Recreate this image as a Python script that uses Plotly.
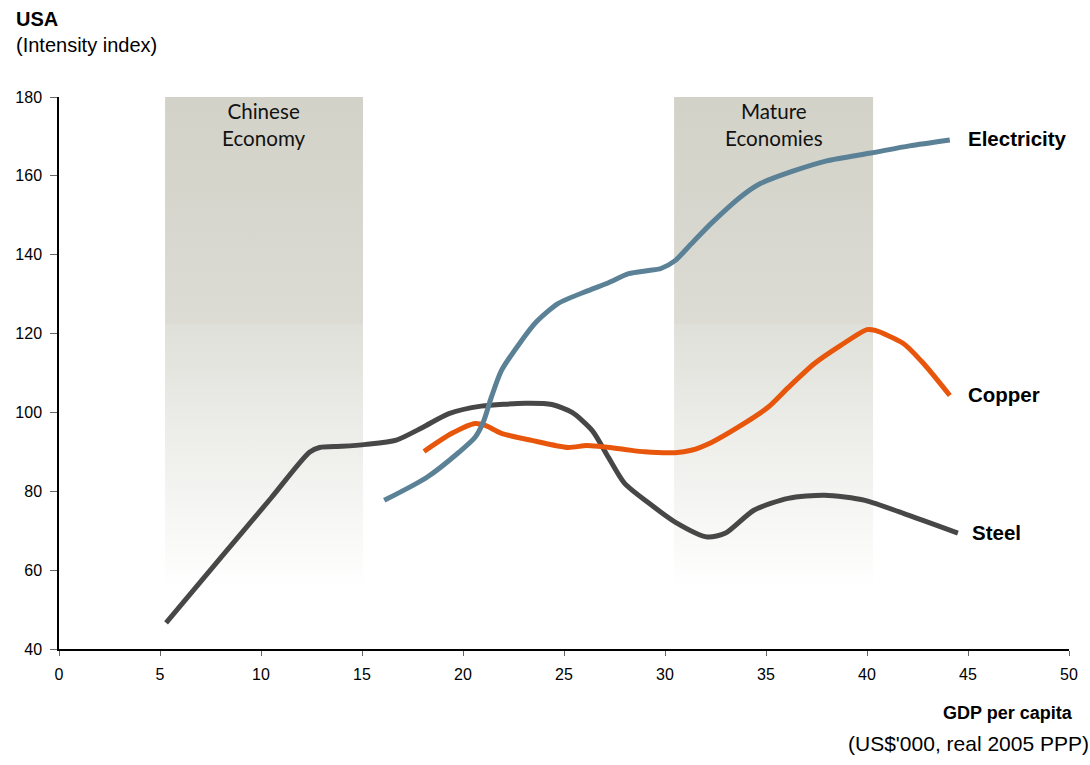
import plotly.graph_objects as go

# Intensity index (USA) against GDP per capita, US$'000 real 2005 PPP
steel_x = [5.3, 8.0, 10.5, 12.4, 12.9, 14.0, 15.2, 16.7, 18.0, 19.3, 20.9, 23.1, 24.4,
           25.4, 26.4, 27.2, 28.0, 29.2, 30.5, 32.1, 33.0, 34.4, 36.1, 37.9, 39.9, 41.8, 44.5]
steel_y = [46.6, 63.1, 78.3, 89.9, 91.1, 91.4, 91.9, 93.0, 96.2, 99.7, 101.6, 102.3, 102.0,
           100.0, 95.4, 88.6, 82.0, 77.0, 72.2, 68.4, 69.4, 75.2, 78.2, 79.0, 77.7, 74.4, 69.4]

copper_x = [18.07, 19.45, 20.6, 21.1, 21.9, 23.4, 25.2, 26.1, 26.7, 28.0, 29.0, 30.5, 31.3,
            32.3, 33.6, 35.1, 36.1, 37.4, 38.7, 40.0, 40.4, 41.8, 42.8, 44.1]
copper_y = [90.1, 94.7, 97.2, 96.7, 94.7, 92.9, 91.1, 91.6, 91.4, 90.6, 90.0, 89.8, 90.4,
            92.4, 96.2, 101.3, 106.3, 112.4, 117.0, 121.0, 120.8, 117.5, 112.4, 104.3]

elec_x = [16.1, 18.2, 19.8, 20.6, 21.0, 21.4, 21.9, 22.8, 23.6, 24.7, 26.2, 27.2, 28.2,
          29.2, 29.8, 30.5, 31.2, 32.3, 33.8, 34.7, 36.4, 38.0, 40.2, 42.1, 44.1]
elec_y = [77.7, 83.5, 89.9, 93.7, 97.5, 103.8, 110.6, 117.5, 122.8, 127.6, 130.9, 132.9, 135.2,
          136.0, 136.5, 138.5, 142.2, 148.0, 154.9, 158.0, 161.3, 163.8, 165.8, 167.6, 169.1]

series_names = ["Steel", "Copper", "Electricity"]
series_colors = ["#474747", "#e8560c", "#5b8197"]
label_shift = [12, 16, 16]

# Shaded development phases
band_names = ["Chinese<br>Economy", "Mature<br>Economies"]
band_x0 = [5.25, 30.45]
band_x1 = [15.05, 40.3]
band_bottom = 55
band_top = 180.5

x_ticks = [0, 5, 10, 15, 20, 25, 30, 35, 40, 45, 50]
y_ticks = [40, 60, 80, 100, 120, 140, 160, 180]

FONT = "Arial, Liberation Sans, sans-serif"

fig = go.Figure()

solid_from = (122.5 - band_bottom) / (band_top - band_bottom)
band_scale = [
    [0.0, "rgba(255,255,255,1)"],
    [solid_from - 0.002, "rgb(224,224,218)"],
    [solid_from, "rgb(220,219,212)"],
    [1.0, "rgb(211,210,200)"],
]
for x0, x1 in zip(band_x0, band_x1):
    fig.add_trace(go.Scatter(
        x=[x0, x1, x1, x0, x0],
        y=[band_bottom, band_bottom, band_top, band_top, band_bottom],
        mode="lines", line=dict(width=0), fill="toself",
        fillgradient=dict(type="vertical", colorscale=band_scale,
                          start=band_bottom, stop=band_top),
        hoverinfo="skip", showlegend=False, cliponaxis=False,
    ))

for name, xs, ys, col, dx in zip(series_names,
                                 [steel_x, copper_x, elec_x],
                                 [steel_y, copper_y, elec_y],
                                 series_colors, label_shift):
    fig.add_trace(go.Scatter(
        x=xs, y=ys, mode="lines", name=name,
        line=dict(color=col, width=5, shape="spline", smoothing=0.7),
        showlegend=False,
    ))
    fig.add_annotation(
        x=xs[-1], y=ys[-1], text=f"<b>{name}</b>", showarrow=False,
        xanchor="left", yanchor="middle", xshift=dx, yshift=1,
        font=dict(family=FONT, size=20.5, color="#000000"),
    )

for label, x0, x1 in zip(band_names, band_x0, band_x1):
    fig.add_annotation(
        x=(x0 + x1) / 2, y=180, text=label, showarrow=False,
        xanchor="center", yanchor="top", yshift=0,
        font=dict(family="Lato, Open Sans, sans-serif", size=20.6, color="#111111"),
    )

fig.add_annotation(
    xref="paper", yref="paper", x=-0.0445, y=1.0, text="<b>USA</b>",
    showarrow=False, xanchor="left", yanchor="bottom", yshift=65,
    font=dict(family=FONT, size=20, color="#000000"),
)
fig.add_annotation(
    xref="paper", yref="paper", x=-0.0445, y=1.0, text="(Intensity index)",
    showarrow=False, xanchor="left", yanchor="bottom", yshift=39,
    font=dict(family=FONT, size=20, color="#000000"),
)
fig.add_annotation(
    xref="paper", yref="paper", x=1.0, y=0.0, text="<b>GDP per capita</b>",
    showarrow=False, xanchor="right", yanchor="top", yshift=-52, xshift=6,
    font=dict(family=FONT, size=18, color="#000000"),
)
fig.add_annotation(
    xref="paper", yref="paper", x=1.0, y=0.0, text="(US$'000, real 2005 PPP)",
    showarrow=False, xanchor="right", yanchor="top", yshift=-81, xshift=22,
    font=dict(family=FONT, size=21, color="#000000"),
)

fig.update_layout(
    width=1090, height=765,
    margin=dict(l=59, r=18, t=97, b=116),
    paper_bgcolor="white", plot_bgcolor="white",
    font=dict(family=FONT, size=16, color="#000000"),
    xaxis=dict(range=[0, 50], tickvals=x_ticks, ticks="outside", ticklen=5,
               tickcolor="#666666", showgrid=False, zeroline=False,
               showline=True, linecolor="#000000", linewidth=1.5,
               tickfont=dict(size=16), ticklabelstandoff=5),
    yaxis=dict(range=[40, 180], tickvals=y_ticks, ticks="outside", ticklen=7,
               tickcolor="#666666", showgrid=False, zeroline=False,
               showline=True, linecolor="#000000", linewidth=1.5,
               tickfont=dict(size=16), ticklabelstandoff=5),
)

fig.write_html("out.html")
